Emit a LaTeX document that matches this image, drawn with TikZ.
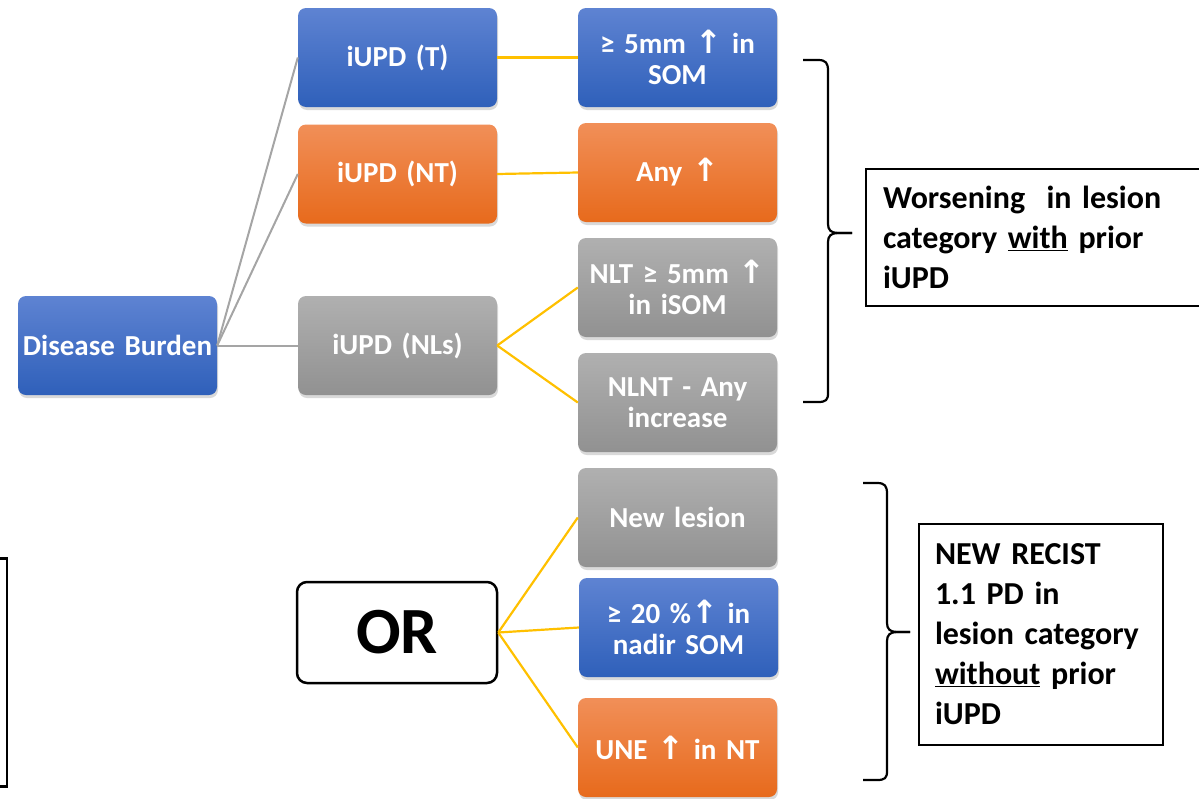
\documentclass[tikz,border=0pt]{standalone}
\usepackage{fontspec}
\setmainfont{Carlito}
\newfontfamily\symfont{DejaVu Sans}[BoldFont={DejaVu Sans Bold}]
\usetikzlibrary{shadows}
\newcommand\uparr{{\symfont\bfseries\fontsize{32}{31}\selectfont ↑}}
\definecolor{bluetop}{RGB}{94,131,210}
\definecolor{bluebot}{RGB}{47,96,186}
\definecolor{orgtop}{RGB}{241,143,88}
\definecolor{orgbot}{RGB}{231,106,28}
\definecolor{graytop}{RGB}{176,176,176}
\definecolor{graybot}{RGB}{145,145,145}
\definecolor{linkgray}{RGB}{165,165,165}
\definecolor{linkgold}{RGB}{255,192,0}
\begin{document}
\begin{tikzpicture}[x=1pt,y=-1pt,
  box/.style={rounded corners=8pt, minimum width=199pt, minimum height=99pt,
    text width=192pt, align=center, inner sep=0pt, text=white,
    font=\bfseries\fontsize{29}{31}\selectfont,
    drop shadow={shadow xshift=1pt, shadow yshift=-3pt, opacity=0.3}},
  bluebox/.style={box, top color=bluetop, bottom color=bluebot},
  orangebox/.style={box, top color=orgtop, bottom color=orgbot},
  graybox/.style={box, top color=graytop, bottom color=graybot},
  greylink/.style={draw=linkgray, line width=2pt},
  goldlink/.style={draw=linkgold, line width=2.2pt},
  brace/.style={draw=black, line width=2.2pt},
  textbox/.style={draw=black, line width=2pt, align=left, inner ysep=0pt,
    font=\bfseries\fontsize{32}{40}\selectfont}]
\useasboundingbox (0,0) rectangle (1199,798);
\clip (0,0) rectangle (1199,798);

% tree nodes
\node[bluebox]   (db)   at (117.5,345.5) {Disease Burden};
\node[bluebox]   (t)    at (397.5,57.5)  {iUPD (T)};
\node[orangebox] (nt)   at (397.5,174)   {iUPD (NT)};
\node[graybox]   (nl)   at (397.5,345.5) {iUPD (NLs)};
\node[bluebox]   (som)  at (677.5,57.5)  {≥ 5mm \uparr{} in\\SOM};
\node[orangebox] (any)  at (677.5,172.5) {Any \uparr};
\node[graybox]   (nlt)  at (677.5,287.5) {NLT ≥ 5mm \uparr\\in iSOM};
\node[graybox]   (nlnt) at (677.5,402.5) {NLNT - Any\\increase};
\node[graybox]   (newl) at (677.5,517.5) {New lesion};
\node[bluebox]   (pct)  at (678.5,627.5) {≥ 20 \%\uparr{} in\\nadir SOM};
\node[orangebox] (une)  at (677.5,747.5) {UNE \uparr{} in NT};
\node[draw=black, line width=2.5pt, rounded corners=10pt, minimum width=200pt,
  minimum height=101pt, font=\bfseries\fontsize{66}{66}\selectfont]
  (or) at (397,632.5) {OR};

% connectors
\draw[greylink] (db.east) -- (t.west);
\draw[greylink] (db.east) -- (nt.west);
\draw[greylink] (db.east) -- (nl.west);
\draw[goldlink] (t.east) -- (som.west);
\draw[goldlink] (nt.east) -- (any.west);
\draw[goldlink] (nl.east) -- (nlt.west);
\draw[goldlink] (nl.east) -- (nlnt.west);
\draw[goldlink] (or.east) -- (newl.west);
\draw[goldlink] (or.east) -- (pct.west);
\draw[goldlink] (or.east) -- (une.west);

% curly braces
\draw[brace] (803,60) -- (818,60) .. controls (826,60) and (828,63) .. (828,71)
  -- (828,224) .. controls (828,230) and (831,233) .. (838,233) -- (852,233);
\draw[brace] (852,233) -- (838,233) .. controls (831,233) and (828,236) .. (828,242)
  -- (828,393) .. controls (828,400) and (826,402) .. (818,402) -- (803,402);
\draw[brace] (863,483) -- (877,483) .. controls (885,483) and (887,486) .. (887,494)
  -- (887,623) .. controls (887,629) and (890,632) .. (897,632) -- (910,632);
\draw[brace] (910,632) -- (897,632) .. controls (890,632) and (887,635) .. (887,641)
  -- (887,771) .. controls (887,778) and (885,780) .. (877,780) -- (863,780);

% outcome boxes
\node[textbox, anchor=north west, minimum width=360pt, minimum height=137pt,
  text width=326pt, inner xsep=17pt] (w) at (865,168)
  {Worsening\ \ in lesion\\category \underline{with} prior\\iUPD};
\node[textbox, anchor=north west, minimum width=244pt, minimum height=221pt,
  text width=212pt, inner xsep=16pt] (r) at (918,523)
  {NEW RECIST\\1.1 PD in\\lesion category\\\underline{without} prior\\iUPD};
\node[draw=black, line width=2.5pt, anchor=north east, minimum width=100pt,
  minimum height=228pt] (lb) at (8,557) {};
\end{tikzpicture}
\end{document}
